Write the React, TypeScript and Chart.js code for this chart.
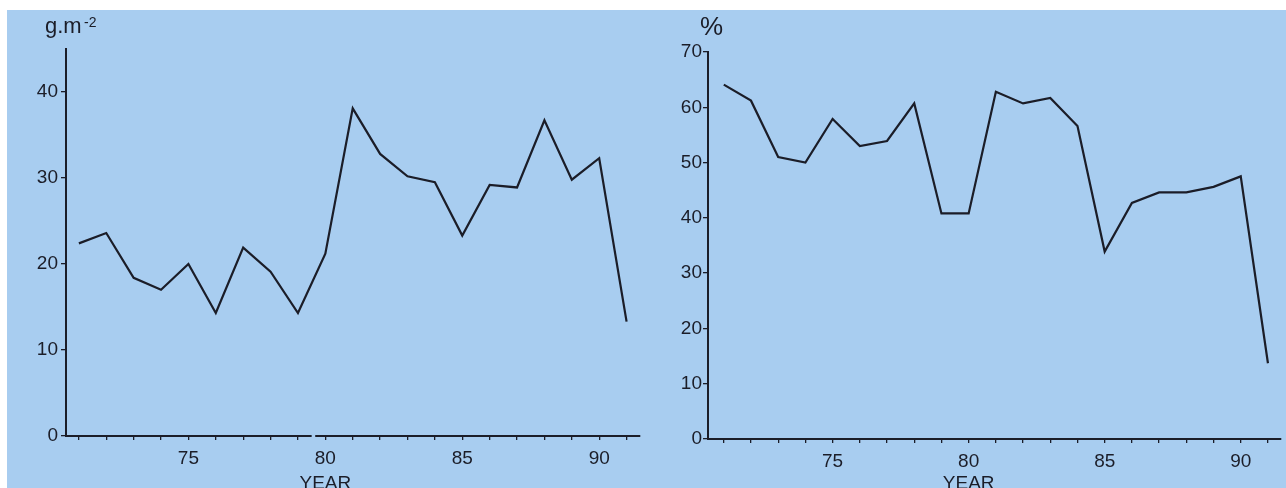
import { useEffect, useRef } from "react";
import { Chart, registerables } from "chart.js";

Chart.register(...registerables);

// Sampling years (19xx)
const years = [71, 72, 73, 74, 75, 76, 77, 78, 79, 80, 81, 82, 83, 84, 85, 86, 87, 88, 89, 90, 91];
// Annual amount, g.m-2
const biomass = [22.4, 23.6, 18.4, 17.0, 20.0, 14.3, 21.9, 19.1, 14.3, 21.2, 38.1, 32.8, 30.2, 29.5, 23.3, 29.2, 28.9, 36.7, 29.8, 32.3, 13.3];
// Annual share, %
const percent = [64.1, 61.2, 51.0, 50.0, 57.9, 53.0, 53.9, 60.7, 40.8, 40.8, 62.8, 60.7, 61.7, 56.6, 33.9, 42.7, 44.6, 44.6, 45.6, 47.5, 13.7];

const yearLabels = [75, 80, 85, 90];
const biomassTicks = [0, 10, 20, 30, 40];
const percentTicks = [0, 10, 20, 30, 40, 50, 60, 70];

const BG = "#a8cdf0";
const INK = "#1b1d28";
const FONT = '"Liberation Sans", Arial, Helvetica, sans-serif';

// Writes the axis title under the x axis and cuts the optional break in the axis line
const axisExtras = {
  id: "axisExtras",
  afterDraw(chart: any, _args: any, opts: any) {
    const { ctx } = chart;
    const x = chart.scales.x;
    ctx.save();
    if (opts.gap) {
      const a = x.getPixelForValue(opts.gap[0]);
      const b = x.getPixelForValue(opts.gap[1]);
      ctx.fillStyle = BG;
      ctx.fillRect(a, x.top - 3, b - a, 6);
    }
    ctx.font = `19px ${FONT}`;
    ctx.fillStyle = INK;
    ctx.textAlign = "center";
    ctx.textBaseline = "alphabetic";
    ctx.fillText(opts.title, x.getPixelForValue(opts.titleAt), opts.baseline);
    ctx.restore();
  },
};

type PanelProps = {
  values: number[];
  yTicks: number[];
  yMax: number;
  xMin: number;
  xMax: number;
  axisWidth: number;
  axisHeight: number;
  padTop: number;
  padRight: number;
  labelPad: number;
  width: number;
  left: number;
  gap?: number[];
};

function Panel(p: PanelProps) {
  const ref = useRef<HTMLCanvasElement>(null);
  useEffect(() => {
    if (!ref.current) return;
    const chart = new Chart(ref.current, {
      type: "line",
      data: {
        datasets: [
          {
            data: years.map((yr, i) => ({ x: yr, y: p.values[i] })),
            borderColor: INK,
            borderWidth: 2.2,
            pointRadius: 0,
            tension: 0,
            fill: false,
          },
        ],
      },
      plugins: [axisExtras],
      options: {
        responsive: false,
        animation: false,
        devicePixelRatio: 1,
        layout: { padding: { top: p.padTop, right: p.padRight, left: 0, bottom: 0 } },
        plugins: {
          legend: { display: false },
          tooltip: { enabled: false },
          axisExtras: { title: "YEAR", titleAt: 80, baseline: 489, gap: p.gap },
        } as any,
        scales: {
          x: {
            type: "linear",
            min: p.xMin,
            max: p.xMax,
            afterBuildTicks: (s: any) => {
              s.ticks = years.map((v) => ({ value: v }));
            },
            afterFit: (s: any) => {
              s.height = p.axisHeight;
            },
            ticks: {
              autoSkip: false,
              maxRotation: 0,
              padding: 7,
              color: INK,
              font: { family: FONT, size: 19 },
              callback: (v: any) => (yearLabels.includes(Number(v)) ? String(v) : ""),
            },
            grid: {
              drawOnChartArea: false,
              drawTicks: true,
              tickLength: 4,
              color: INK,
              lineWidth: 1.3,
            },
            border: { display: true, color: INK, width: 2 },
          },
          y: {
            type: "linear",
            min: 0,
            max: p.yMax,
            afterBuildTicks: (s: any) => {
              s.ticks = p.yTicks.map((v) => ({ value: v }));
            },
            afterFit: (s: any) => {
              s.width = p.axisWidth;
            },
            ticks: {
              padding: p.labelPad,
              color: INK,
              font: { family: FONT, size: 19 },
            },
            grid: {
              drawOnChartArea: false,
              drawTicks: true,
              tickLength: 5,
              color: INK,
              lineWidth: 1.3,
            },
            border: { display: true, color: INK, width: 2 },
          },
        },
      } as any,
    });
    return () => chart.destroy();
  }, []);
  return (
    <canvas
      ref={ref}
      width={p.width}
      height={488}
      style={{ position: "absolute", left: p.left, top: 0, width: p.width, height: 488, display: "block" }}
    />
  );
}

export default function App() {
  return (
    <div
      style={{
        position: "fixed",
        left: 0,
        top: 0,
        width: 1286,
        height: 488,
        background: "#ffffff",
        overflow: "hidden",
        fontFamily: FONT,
        color: INK,
      }}
    >
      <div style={{ position: "absolute", left: 7, top: 10, right: 0, bottom: 0, background: BG }} />
      <Panel
        values={biomass}
        yTicks={biomassTicks}
        yMax={45}
        xMin={70.53}
        xMax={91.49}
        axisWidth={66}
        axisHeight={52}
        padTop={49}
        padRight={10}
        labelPad={3}
        width={650}
        left={0}
        gap={[79.5, 79.63]}
      />
      <Panel
        values={percent}
        yTicks={percentTicks}
        yMax={70}
        xMin={70.42}
        xMax={91.48}
        axisWidth={58}
        axisHeight={49}
        padTop={52}
        padRight={5}
        labelPad={1}
        width={636}
        left={650}
      />
      <div style={{ position: "absolute", left: 45, top: 15, fontSize: 22, lineHeight: "22px", whiteSpace: "nowrap" }}>
        g.m
      </div>
      <div style={{ position: "absolute", left: 84, top: 15, fontSize: 14, lineHeight: "14px", whiteSpace: "nowrap" }}>
        -2
      </div>
      <div style={{ position: "absolute", left: 700, top: 13, fontSize: 26, lineHeight: "26px", whiteSpace: "nowrap" }}>
        %
      </div>
    </div>
  );
}
